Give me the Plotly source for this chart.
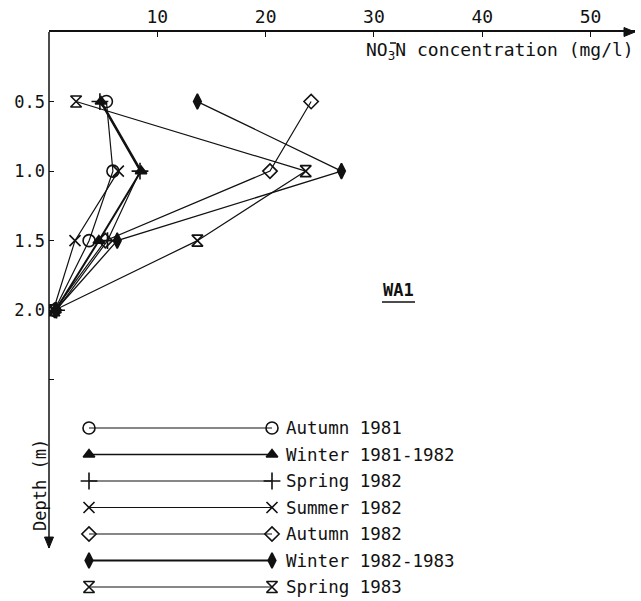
import plotly.graph_objects as go

# ---------------- data ----------------
depth = [0.5, 1.0, 1.5, 2.0]
series_names = ["Autumn 1981", "Winter 1981-1982", "Spring 1982", "Summer 1982",
                "Autumn 1982", "Winter 1982-1983", "Spring 1983"]
autumn_1981 = [5.3, 5.9, 3.7, 0.5]
winter_1981_1982 = [4.8, 8.5, 4.6, 0.6]
spring_1982 = [4.7, 8.4, 5.4, 0.7]
summer_1982 = [None, 6.4, 2.4, 0.4]
autumn_1982 = [24.2, 20.4, 5.2, 0.5]
winter_1982_1983 = [13.7, 27.0, 6.3, 0.6]
spring_1983 = [2.5, 23.7, 13.7, 0.5]
x_ticks = [10, 20, 30, 40, 50]
y_ticks = [0.5, 1.0, 1.5, 2.0, 2.5]
y_ticklabels = ["0.5", "1.0", "1.5", "2.0", " "]

values = [autumn_1981, winter_1981_1982, spring_1982, summer_1982,
          autumn_1982, winter_1982_1983, spring_1983]

# ---------------- styles ----------------
symbols = ["circle-open", "triangle-up", "cross-thin-open", "x-thin-open",
           "diamond-open", "diamond-tall", "hourglass-open"]
msizes = [12, 10, 12, 11, 11, 11, 11]
lwidths = [1.2, 2.0, 1.2, 1.2, 1.2, 1.3, 1.2]
leg_lwidths = [1.1, 1.6, 1.1, 1.1, 1.1, 1.8, 1.1]
INK = "#111111"
FONT = "DejaVu Sans Mono"

W, H = 641, 601
ML, MR, MT, MB = 49, 6, 32, 5
PW, PH = W - ML - MR, H - MT - MB
X_MAX = 54.1
PX_PER_M = 139.1
D_AXIS_END = 3.71
D_MAX = PH / PX_PER_M

fig = go.Figure()
for name, vals, sym, ms, lw in zip(series_names, values, symbols, msizes, lwidths):
    fig.add_trace(go.Scatter(
        x=vals, y=depth, mode="lines+markers", name=name, showlegend=False,
        line=dict(color=INK, width=lw),
        marker=dict(symbol=sym, size=ms, color=INK, line=dict(color=INK, width=1.6)),
        xaxis="x", yaxis="y"))

# ---------- hand-drawn style legend on a pixel helper axis ----------
LEG_Y0, LEG_STEP = 428, 26.5
LEG_XL, LEG_XR, LEG_TX = 89, 272, 284
for i, (name, sym, ms, lw) in enumerate(zip(series_names, symbols, msizes, leg_lwidths)):
    yy = LEG_Y0 + i * LEG_STEP
    fig.add_trace(go.Scatter(
        x=[LEG_XL, LEG_XR], y=[yy, yy], mode="lines+markers", showlegend=False,
        line=dict(color=INK, width=lw),
        marker=dict(symbol=sym, size=ms, color=INK, line=dict(color=INK, width=1.6)),
        xaxis="x2", yaxis="y2", hoverinfo="skip"))
    fig.add_annotation(x=LEG_TX, y=yy, xref="x2", yref="y2", text=name,
                       showarrow=False, xanchor="left", yanchor="middle",
                       font=dict(family=FONT, size=17.5, color=INK))

def px_x(p):
    return (p - ML) / PW

def px_y(p):
    return 1 - (p - MT) / PH

annotations = [
    dict(x=px_x(636), y=px_y(51), xref="paper", yref="paper",
         text="NO<sub>3</sub>N concentration (mg/l)", showarrow=False,
         xanchor="right", yanchor="middle", font=dict(family=FONT, size=18, color=INK)),
    dict(x=px_x(40), y=px_y(485), xref="paper", yref="paper", text="Depth (m)",
         textangle=-90, showarrow=False, xanchor="center", yanchor="middle",
         font=dict(family=FONT, size=17, color=INK)),
    dict(x=px_x(398), y=px_y(290), xref="paper", yref="paper", text="<b>WA1</b>",
         showarrow=False, xanchor="center", yanchor="middle",
         font=dict(family=FONT, size=17, color=INK)),
]
for a in annotations:
    fig.add_annotation(**a)

shapes = [
    # minus sign over the subscript 3
    dict(type="line", xref="paper", yref="paper", x0=px_x(390), x1=px_x(396),
         y0=px_y(43), y1=px_y(43), line=dict(color=INK, width=1.5)),
    # underline of WA1
    dict(type="line", xref="paper", yref="paper", x0=px_x(382), x1=px_x(415),
         y0=px_y(302), y1=px_y(302), line=dict(color=INK, width=1.5)),
    # depth axis line (ends in an arrow)
    dict(type="line", xref="paper", yref="y", x0=0, x1=0, y0=0, y1=D_AXIS_END,
         line=dict(color=INK, width=1.5)),
    dict(type="path", xref="paper", yref="y",
         path=f"M {-4.5/PW} {D_AXIS_END - 11/PX_PER_M} L 0 {D_AXIS_END} "
              f"L {4.5/PW} {D_AXIS_END - 11/PX_PER_M} Z",
         fillcolor=INK, line=dict(color=INK, width=1)),
    # arrow head at end of x axis
    dict(type="path", xref="paper", yref="paper",
         path=f"M {1 - 11/PW} {1 + 4.5/PH} L 1 1 L {1 - 11/PW} {1 - 4.5/PH} Z",
         fillcolor=INK, line=dict(color=INK, width=1)),
]

fig.update_layout(
    width=W, height=H,
    margin=dict(l=ML, r=MR, t=MT, b=MB, pad=0),
    paper_bgcolor="white", plot_bgcolor="white",
    shapes=shapes,
    xaxis=dict(side="top", range=[0, X_MAX], showgrid=False, zeroline=False,
               showline=True, linecolor=INK, linewidth=1.5,
               tickmode="array", tickvals=x_ticks, ticks="inside", ticklen=5,
               tickcolor=INK, tickwidth=1.3, ticklabelstandoff=0,
               tickfont=dict(family=FONT, size=18, color=INK)),
    yaxis=dict(range=[D_MAX, 0], showgrid=False, zeroline=False,
               showline=False,
               tickmode="array", tickvals=y_ticks, ticktext=y_ticklabels,
               ticks="inside", ticklen=5, tickcolor=INK, tickwidth=1.3,
               ticklabelstandoff=3,
               tickfont=dict(family=FONT, size=17, color=INK)),
    xaxis2=dict(overlaying="x", range=[ML, W - MR], visible=False),
    yaxis2=dict(overlaying="y", range=[H - MB, MT], visible=False),
    font=dict(family=FONT, color=INK),
)

fig.write_html("out.html")
